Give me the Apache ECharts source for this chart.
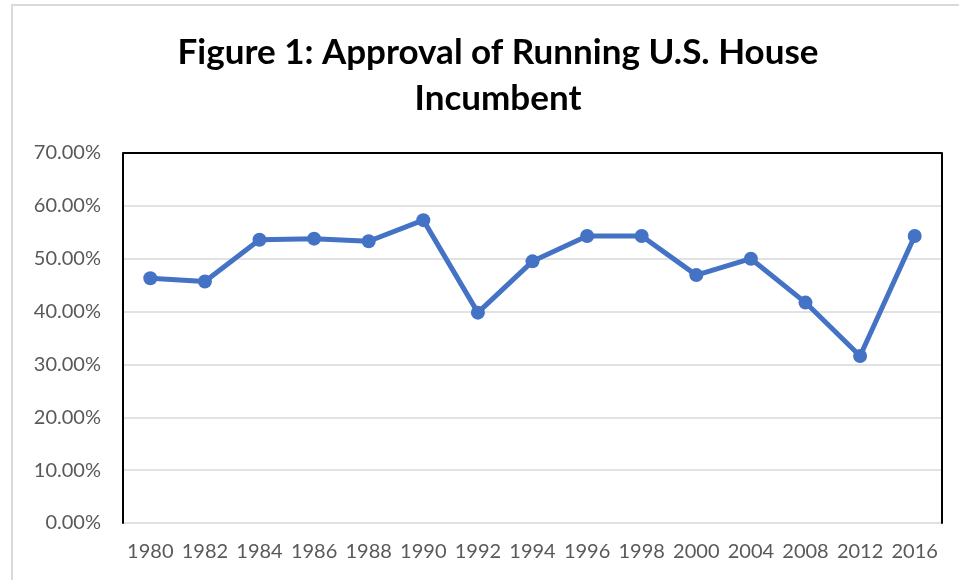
<!DOCTYPE html>
<html>
<head>
<meta charset="utf-8">
<script src="https://cdn.jsdelivr.net/npm/echarts@6/dist/echarts.min.js"></script>
<style>
  html, body { margin: 0; padding: 0; background: #ffffff; }
  #chart { width: 959px; height: 580px; }
</style>
</head>
<body>
<div id="chart"></div>
<script>
// categories (election years)
const years = ['1980', '1982', '1984', '1986', '1988', '1990', '1992', '1994',
  '1996', '1998', '2000', '2004', '2008', '2012', '2016']
// approval of running incumbent, in percent
const approval = [46.3, 45.7, 53.6, 53.8, 53.3, 57.3, 39.8, 49.5,
  54.3, 54.3, 46.9, 50.0, 41.7, 31.6, 54.3]

const titleLines = ['Figure 1: Approval of Running U.S. House', 'Incumbent']

const chart = echarts.init(document.getElementById('chart'), null, {renderer: 'canvas'})

const labelStyle = {
  fontFamily: 'Lato',
  fontSize: 20,
  color: '#595959',
}

chart.setOption({
  backgroundColor: '#ffffff',
  animation: false,
  /** outer chart frame */
  graphic: [
    {
      type: 'rect',
      shape: {x: 12, y: 5, width: 980, height: 620},
      style: {fill: 'none', stroke: '#d9d9d9', lineWidth: 2},
      silent: true,
    },
  ],
  title: {
    text: titleLines.join('\n'),
    left: 493,
    top: 25,
    textAlign: 'center',
    textStyle: {
      fontFamily: 'Lato',
      fontWeight: 'bold',
      fontSize: 35,
      lineHeight: 46,
      color: '#000000',
    },
  },
  grid: {
    left: 123,
    right: 17,
    top: 153,
    bottom: 57,
    containLabel: false,
  },
  xAxis: {
    type: 'category',
    data: years,
    boundaryGap: true,
    // bottom edge is drawn by the 0% split line
    axisLine: {show: false},
    axisTick: {show: false},
    axisLabel: {...labelStyle, margin: 19, interval: 0},
    splitLine: {show: false},
  },
  yAxis: [
    {
      type: 'value',
      min: 0,
      max: 70,
      interval: 10,
      axisLine: {show: true, lineStyle: {color: '#000000', width: 2}},
      axisTick: {show: false},
      axisLabel: {
        ...labelStyle,
        margin: 22,
        formatter: (v) => v.toFixed(2) + '%',
      },
      splitLine: {show: true, lineStyle: {color: '#d9d9d9', width: 1.5}},
    },
    /** right border */
    {
      type: 'value',
      min: 0,
      max: 70,
      interval: 10,
      position: 'right',
      axisLine: {show: true, lineStyle: {color: '#000000', width: 2}},
      axisTick: {show: false},
      axisLabel: {show: false},
      splitLine: {show: false},
    },
  ],
  series: [
    {
      name: 'Approval',
      type: 'line',
      data: approval,
      yAxisIndex: 0,
      symbol: 'circle',
      symbolSize: 14,
      lineStyle: {color: '#4472c4', width: 5},
      itemStyle: {color: '#4472c4'},
      z: 5,
      /** top border of the plot box */
      markLine: {
        silent: true,
        symbol: 'none',
        label: {show: false},
        lineStyle: {color: '#000000', width: 2, type: 'solid'},
        data: [{yAxis: 70}],
        z: 3,
      },
    },
  ],
})
</script>
</body>
</html>
